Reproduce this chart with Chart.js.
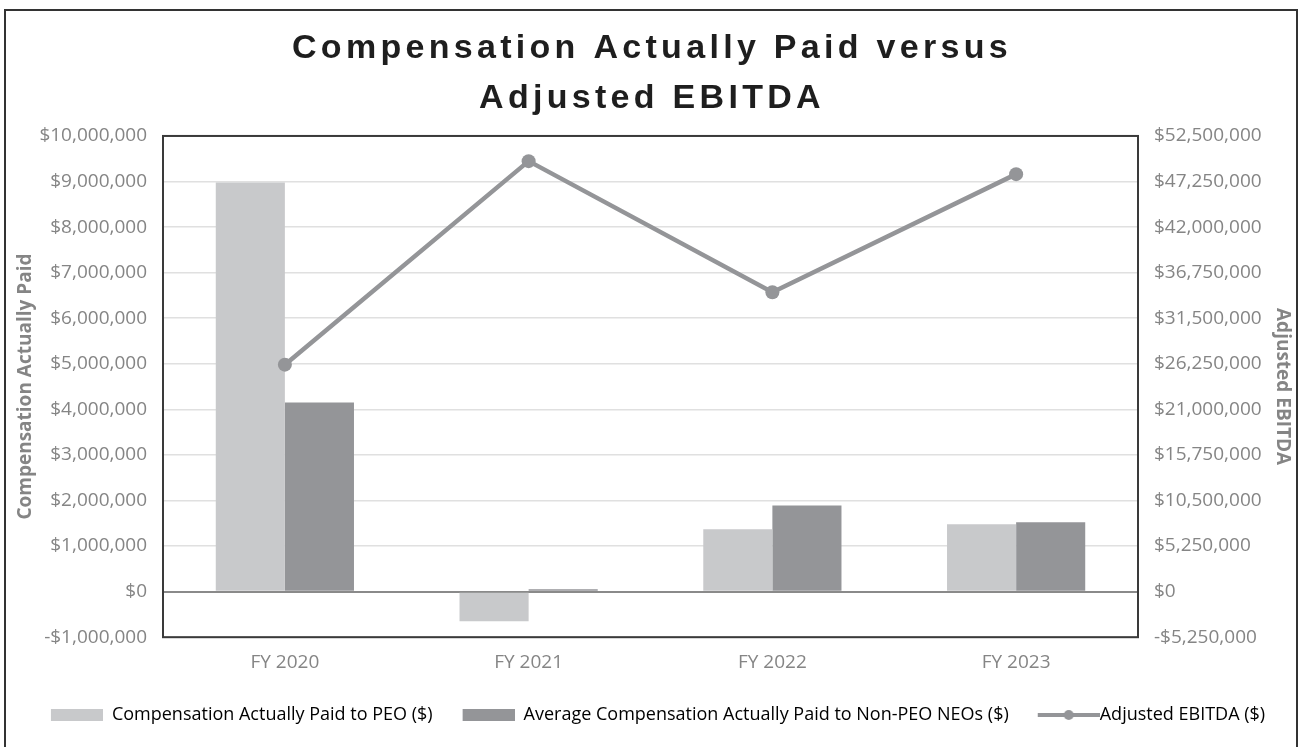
<!DOCTYPE html>
<html>
<head>
<meta charset="utf-8">
<script src="https://cdn.jsdelivr.net/npm/chart.js@4.4.0/dist/chart.umd.min.js"></script>
<style>
  html, body { margin: 0; padding: 0; background: #fff; overflow: hidden; }
  #frame { position: absolute; left: 4px; top: 9px; width: 1290px; height: 760px; border: 2px solid #333; }
  #wrap { position: absolute; left: 0; top: 0; width: 1302px; height: 747px; }
</style>
</head>
<body>
<div id="frame"></div>
<div id="wrap"><canvas id="chart"></canvas></div>
<script>
// ====== data ======
const years     = ["FY 2020", "FY 2021", "FY 2022", "FY 2023"];
const peoPaid   = [8980000, -650000, 1370000, 1480000];   // CAP to PEO
const neoPaid   = [4150000, 50000, 1890000, 1520000];     // avg CAP to non-PEO NEOs
const adjEbitda = [26150000, 49600000, 34500000, 48100000];

const leftMin = -1000000,  leftMax = 10000000,  leftStep = 1000000;
const rightMin = -5250000, rightMax = 52500000, rightStep = 5250000;

const seriesNames = [
  "Compensation Actually Paid to PEO ($)",
  "Average Compensation Actually Paid to Non-PEO NEOs ($)",
  "Adjusted EBITDA ($)"
];

const LIGHT = "#c8c9cb";
const DARK  = "#949598";
const TEXT  = "#858585";
const FONT  = "'Open Sans', sans-serif";

// helper: $ format
function money(v) {
  const s = "$" + Math.abs(v).toLocaleString("en-US");
  return v < 0 ? "-" + s : s;
}

// legend icons (64 wide slot, 12px blank at the left = extra gap to previous item)
function boxIcon(color) {
  const c = document.createElement("canvas");
  c.width = 64; c.height = 12;
  const g = c.getContext("2d");
  g.fillStyle = color; g.fillRect(12, 0, 52, 12);
  return c;
}
function lineIcon(color) {
  const c = document.createElement("canvas");
  c.width = 82; c.height = 12;
  const g = c.getContext("2d");
  g.fillStyle = color;
  g.fillRect(20, 4, 62, 4);
  g.beginPath(); g.arc(51, 6, 5, 0, Math.PI * 2); g.fill();
  return c;
}

// title with wide letter spacing
const spacedTitle = {
  id: "spacedTitle",
  afterInit(chart) {
    const tb = chart.titleBlock;
    if (!tb) return;
    const orig = tb.draw.bind(tb);
    tb.draw = function (area) {
      const c = chart.ctx;
      c.save();
      c.letterSpacing = "4.3px";
      orig(area);
      c.restore();
    };
  }
};

// frame round plot area
const plotBorder = {
  id: "plotBorder",
  afterDatasetsDraw(chart) {
    const { ctx, chartArea: a } = chart;
    ctx.save();
    ctx.strokeStyle = "#3a3a3a";
    ctx.lineWidth = 2;
    ctx.strokeRect(a.left, a.top, a.right - a.left, a.bottom - a.top);
    ctx.restore();
  }
};

new Chart(document.getElementById("chart"), {
  type: "bar",
  data: {
    labels: years,
    datasets: [
      { label: seriesNames[0], data: peoPaid, backgroundColor: LIGHT, yAxisID: "y", order: 1,
        categoryPercentage: 0.567, barPercentage: 1.0 },
      { label: seriesNames[1], data: neoPaid, backgroundColor: DARK, yAxisID: "y", order: 1,
        categoryPercentage: 0.567, barPercentage: 1.0 },
      { type: "line", label: seriesNames[2], data: adjEbitda, yAxisID: "y1", order: 0,
        borderColor: DARK, backgroundColor: DARK, borderWidth: 4.5,
        pointRadius: 7, pointBackgroundColor: DARK, pointBorderWidth: 0, tension: 0 }
    ]
  },
  options: {
    responsive: true, maintainAspectRatio: false, animation: false,
    layout: { padding: { left: 10, right: 8, top: 0, bottom: 13 } },
    plugins: {
      title: {
        display: true,
        text: ["Compensation Actually Paid versus", "Adjusted EBITDA"],
        color: "#1e1e1e",
        font: { family: "'Liberation Sans', Arial, sans-serif", size: 34, weight: "bold", lineHeight: 1.47 },
        padding: { top: 24, bottom: 12 }
      },
      legend: {
        position: "bottom",
        labels: {
          usePointStyle: true, pointStyleWidth: 64, boxHeight: 12,
          color: TEXT, font: { family: FONT, size: 18 }, padding: 18,
          generateLabels: () => [
            { text: seriesNames[0], pointStyle: boxIcon(LIGHT), fillStyle: LIGHT, lineWidth: 0, hidden: false, datasetIndex: 0 },
            { text: seriesNames[1], pointStyle: boxIcon(DARK),  fillStyle: DARK,  lineWidth: 0, hidden: false, datasetIndex: 1 },
            { text: seriesNames[2], pointStyle: lineIcon(DARK), fillStyle: DARK,  lineWidth: 0, hidden: false, datasetIndex: 2 }
          ]
        }
      },
      tooltip: { enabled: false }
    },
    scales: {
      x: {
        grid: { display: false, drawTicks: false },
        border: { display: false },
        ticks: { color: TEXT, font: { family: FONT, size: 19 }, padding: 14 }
      },
      y: {
        position: "left",
        min: leftMin, max: leftMax,
        ticks: { stepSize: leftStep, callback: v => money(v), color: TEXT,
                 font: { family: FONT, size: 19 }, padding: 16 },
        grid: {
          drawTicks: false,
          color: c => c.tick && c.tick.value === 0 ? "#8a8a8a" : "#e0e0e0",
          lineWidth: c => c.tick && c.tick.value === 0 ? 2 : 1.5
        },
        border: { display: false },
        title: { display: true, text: "Compensation Actually Paid", color: TEXT,
                 font: { family: FONT, size: 19, weight: "bold" }, padding: { top: 4, bottom: 0 } },
        afterFit: s => { s.width = 153; }
      },
      y1: {
        position: "right",
        min: rightMin, max: rightMax,
        ticks: { stepSize: rightStep, callback: v => money(v), color: TEXT,
                 font: { family: FONT, size: 19 }, padding: 16 },
        grid: { drawOnChartArea: false, drawTicks: false },
        border: { display: false },
        title: { display: true, text: "Adjusted EBITDA", color: TEXT,
                 font: { family: FONT, size: 19, weight: "bold" }, padding: { top: 0, bottom: 0 } },
        afterFit: s => { s.width = 156; }
      }
    }
  },
  plugins: [spacedTitle, plotBorder]
});
</script>
</body>
</html>
